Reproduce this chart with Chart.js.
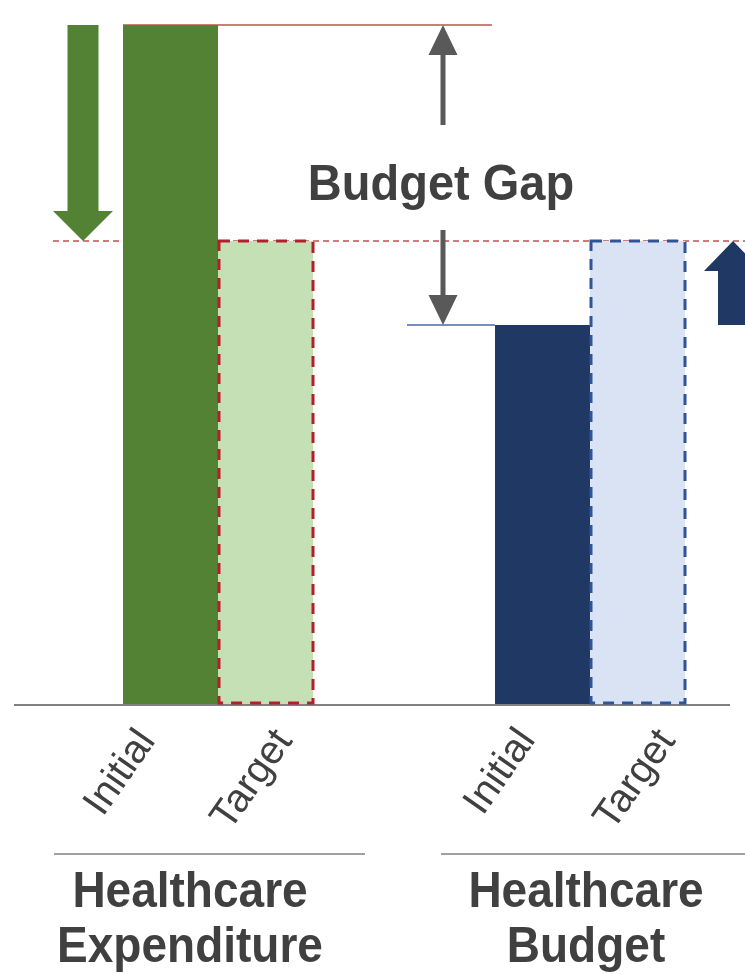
<!DOCTYPE html>
<html>
<head>
<meta charset="utf-8">
<script src="https://cdn.jsdelivr.net/npm/chart.js@4.4.1/dist/chart.umd.min.js"></script>
<style>
  html, body { margin: 0; padding: 0; background: #fff; }
  #wrap { width: 745px; height: 974px; overflow: hidden; }
</style>
</head>
<body>
<div id="wrap"><canvas id="gapChart" width="800" height="974"></canvas></div>
<script>
// Budget gap: expenditure vs budget, initial and target
var categories = ['Healthcare Expenditure', 'Healthcare Budget'];
var barLabels = ['Initial', 'Target'];
var initialValues = [100, 55.8];
var targetValues = [68.2, 68.2];

var TEXT = '#404040';
var GAP_GREY = '#595959';
var LINE_RED = '#c0504d';

function arrow(ctx, x, tail, tip, shaftW, headW, headLen, color) {
    var dir = tip < tail ? -1 : 1;
    var base = tip - dir * headLen;
    ctx.save();
    ctx.fillStyle = color;
    ctx.beginPath();
    ctx.moveTo(x - shaftW / 2, tail);
    ctx.lineTo(x - shaftW / 2, base);
    ctx.lineTo(x - headW / 2, base);
    ctx.lineTo(x, tip);
    ctx.lineTo(x + headW / 2, base);
    ctx.lineTo(x + shaftW / 2, base);
    ctx.lineTo(x + shaftW / 2, tail);
    ctx.closePath();
    ctx.fill();
    ctx.restore();
}

function hline(ctx, x1, x2, y, color, width, dash) {
    ctx.save();
    ctx.strokeStyle = color;
    ctx.lineWidth = width;
    ctx.setLineDash(dash || []);
    ctx.beginPath();
    ctx.moveTo(x1, y);
    ctx.lineTo(x2, y);
    ctx.stroke();
    ctx.restore();
}

function stretchedText(ctx, text, x, y, font, sy) {
    ctx.save();
    ctx.translate(x, y);
    ctx.scale(1, sy);
    ctx.font = font;
    ctx.fillStyle = TEXT;
    ctx.textAlign = 'center';
    ctx.textBaseline = 'alphabetic';
    ctx.fillText(text, 0, 0);
    ctx.restore();
}

var gapGuides = {
    id: 'gapGuides',
    beforeDatasetsDraw: function (chart) {
        var ctx = chart.ctx;
        var y = chart.scales.y;
        var exp0 = chart.getDatasetMeta(0).data[0];
        var bud0 = chart.getDatasetMeta(0).data[1];
        var yTop = y.getPixelForValue(initialValues[0]);
        var yTarget = y.getPixelForValue(targetValues[0]);
        var yBudget = y.getPixelForValue(initialValues[1]);
        var gapX = bud0.x - bud0.width / 2 - 52;

        // axis baseline
        hline(ctx, 14, 730, y.getPixelForValue(0) + 1, '#808080', 2);
        // target level
        hline(ctx, exp0.x - exp0.width / 2 - 70, 800, yTarget, LINE_RED, 1.5, [6, 4]);
        // current spending / current budget levels
        hline(ctx, exp0.x - exp0.width / 2, gapX + 49, yTop, LINE_RED, 1.5);
        hline(ctx, gapX - 36, bud0.x - bud0.width / 2, yBudget, '#4a6aa8', 1.5);
    },
    afterDatasetsDraw: function (chart) {
        var ctx = chart.ctx;
        var y = chart.scales.y;
        var initMeta = chart.getDatasetMeta(0);
        var targMeta = chart.getDatasetMeta(1);
        var dashColors = ['#b41f2d', '#2f5597'];

        // dashed outline on target bars
        targMeta.data.forEach(function (bar, i) {
            var left = bar.x - bar.width / 2;
            ctx.save();
            ctx.strokeStyle = dashColors[i];
            ctx.lineWidth = 3;
            ctx.setLineDash([11, 8]);
            ctx.strokeRect(left + 1, bar.y, bar.width - 1, bar.base - bar.y - 1);
            ctx.restore();
        });

        var exp0 = initMeta.data[0];
        var bud0 = initMeta.data[1];
        var bud1 = targMeta.data[1];
        var yTop = y.getPixelForValue(initialValues[0]);
        var yTarget = y.getPixelForValue(targetValues[0]);
        var yBudget = y.getPixelForValue(initialValues[1]);
        var gapX = bud0.x - bud0.width / 2 - 52;

        // cut spending / raise budget
        arrow(ctx, exp0.x - exp0.width / 2 - 40, yTop, yTarget, 31, 60, 30, '#548235');
        arrow(ctx, bud1.x + bud1.width / 2 + 48, yBudget, yTarget, 30, 58, 30, '#203864');

        // gap markers
        arrow(ctx, gapX, 125, yTop, 5, 29, 30, GAP_GREY);
        arrow(ctx, gapX, 230, yBudget, 5, 29, 30, GAP_GREY);
        stretchedText(ctx, 'Budget Gap', gapX - 2, 200, 'bold 47px "Liberation Sans", Arial, sans-serif', 1.08);

        // rotated bar labels (offset from bar centre, per group)
        var offsets = [
            [[-50, 773], [-42, 772]],
            [[-13, 780], [-2, 780]]
        ];
        [initMeta, targMeta].forEach(function (meta, d) {
            meta.data.forEach(function (bar, i) {
                ctx.save();
                ctx.translate(bar.x + offsets[d][i][0], offsets[d][i][1]);
                ctx.rotate(-55 * Math.PI / 180);
                ctx.font = '40px "Liberation Sans", Arial, sans-serif';
                ctx.fillStyle = TEXT;
                ctx.textAlign = 'center';
                ctx.textBaseline = 'middle';
                ctx.fillText(barLabels[d], 0, 0);
                ctx.restore();
            });
        });

        // group labels
        var groupShift = [-28, -4];
        var groupLines = [[54, 365], [441, 800]];
        categories.forEach(function (name, i) {
            var cx = initMeta.data[i].x + initMeta.data[i].width / 2 + groupShift[i];
            var words = name.split(' ');
            hline(ctx, groupLines[i][0], groupLines[i][1], 854, '#808080', 1.5);
            stretchedText(ctx, words[0], cx, 907, 'bold 46px "Liberation Sans", Arial, sans-serif', 1.07);
            stretchedText(ctx, words[1], cx, 962, 'bold 46px "Liberation Sans", Arial, sans-serif', 1.07);
        });
    }
};

var gapChart = new Chart(document.getElementById('gapChart'), {
    type: 'bar',
    data: {
        labels: categories,
        datasets: [{
            label: barLabels[0],
            data: initialValues,
            backgroundColor: ['#548235', '#203864'],
            borderWidth: 0
        }, {
            label: barLabels[1],
            data: targetValues,
            backgroundColor: ['#c5e0b4', '#dae3f3'],
            borderWidth: 0
        }]
    },
    options: {
        responsive: false,
        animation: false,
        devicePixelRatio: 1,
        categoryPercentage: 190 / 372,
        barPercentage: 1,
        layout: {
            padding: { left: 32, right: 24, top: 25, bottom: 270 }
        },
        plugins: {
            legend: { display: false },
            tooltip: { enabled: false }
        },
        scales: {
            x: { display: false },
            y: { display: false, min: 0, max: 100 }
        }
    },
    plugins: [gapGuides]
});
</script>
</body>
</html>
